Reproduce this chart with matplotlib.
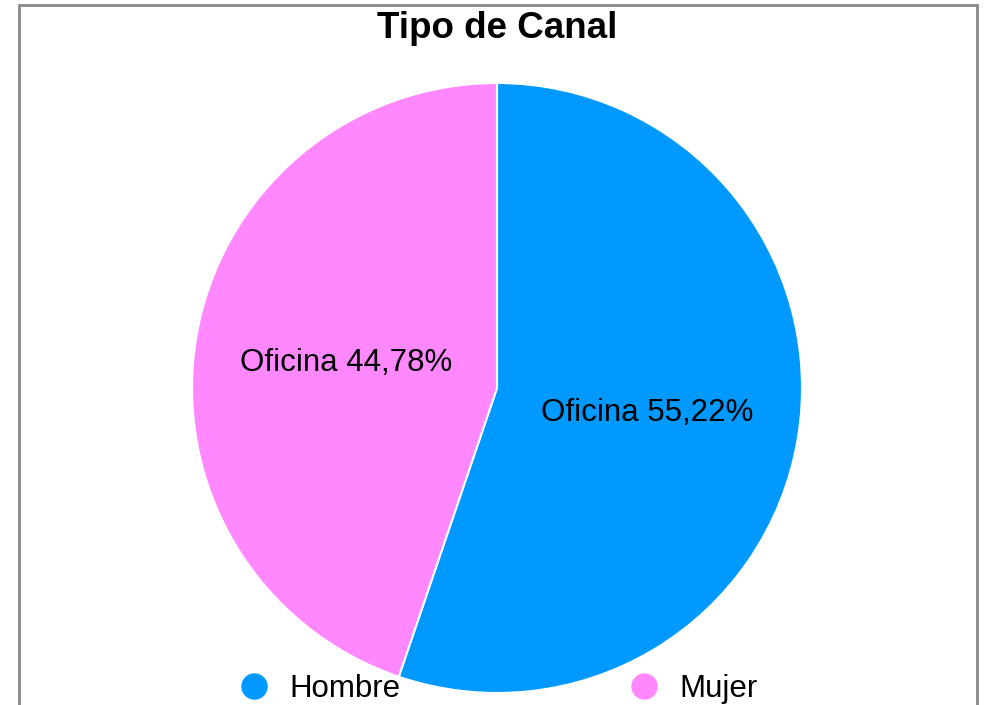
import matplotlib.pyplot as plt
from matplotlib.lines import Line2D
from matplotlib.patches import Rectangle

plt.rcParams['font.family'] = ['Liberation Sans', 'DejaVu Sans']

# Data
categories = ['Hombre', 'Mujer']
values = [55.22, 44.78]
slice_labels = ['Oficina 55,22%', 'Oficina 44,78%']
colors = ['#0099FF', '#FF88FF']

fig = plt.figure(figsize=(9.86, 7.05), dpi=100)

# outer frame (bottom edge falls off the image)
fig.patches.append(Rectangle((19 / 986, -0.05), 958 / 986, 1 - 5 / 705 + 0.05,
                             transform=fig.transFigure, fill=False,
                             edgecolor='#888888', linewidth=2))

ax = fig.add_axes([192 / 986, 12 / 705, 610 / 986, 610 / 705])
wedges, texts = ax.pie(values, labels=slice_labels, colors=colors,
                       startangle=90, counterclock=False,
                       labeldistance=0.5, radius=1,
                       wedgeprops=dict(edgecolor='white', linewidth=1.5),
                       textprops=dict(fontsize=22.5, ha='center', va='center'))
ax.set_xlim(-1, 1)
ax.set_ylim(-1, 1)
ax.set_aspect('equal')
ax.axis('off')

fig.text(497 / 986, 1 - 29 / 705, 'Tipo de Canal', fontsize=26.5,
         fontweight='bold', ha='center', va='center')

handles = [Line2D([], [], linestyle='none', marker='o', markersize=18,
                  markerfacecolor=c, markeredgecolor=c) for c in colors]
fig.legend(handles, categories, loc='center', bbox_to_anchor=(498 / 986, 16 / 705),
           ncol=2, frameon=False, fontsize=22.5, handlelength=1,
           handletextpad=0.63, columnspacing=7.3, borderpad=0, borderaxespad=0)

fig.savefig('out.png', dpi=100)
